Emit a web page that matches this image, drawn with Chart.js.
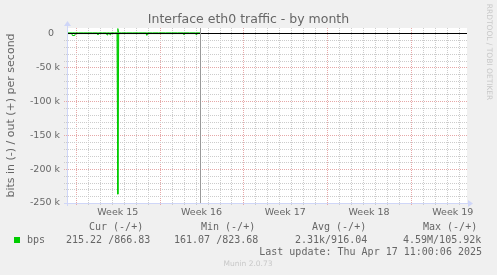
<!DOCTYPE html>
<html>
<head>
<meta charset="utf-8">
<script src="https://cdn.jsdelivr.net/npm/chart.js@4.4.1/dist/chart.umd.min.js"></script>
<style>
  html, body { margin: 0; padding: 0; background: #f0f0f0; }
  #grafico { display: block; }
</style>
</head>
<body>
<canvas id="grafico" width="497" height="275"></canvas>
<script>
// datos: tiempo en dias de abril 2025 (fraccion), bits por segundo
const tiempos = [6.25, 6.5, 6.66, 6.7, 6.9, 6.94, 7.2, 7.6, 8.0, 8.4, 8.78, 8.84, 8.9, 9.2, 9.55, 9.6, 9.66, 9.8, 9.85, 9.9, 10.2, 10.43, 10.5, 10.57, 10.8, 11.2, 11.7, 12.2, 12.6, 12.86, 12.92, 12.98, 13.4, 13.9, 14.5, 15.0, 15.5, 15.97, 16.03, 16.09, 16.5, 16.98, 17.04, 17.1, 17.37];
const bitsEntrada = [240, 260, 300, 3100, 3100, 320, 250, 230, 270, 250, 260, 1900, 280, 240, 270, 2300, 260, 280, 2100, 250, 260, 300, 237000, 300, 250, 240, 260, 250, 240, 270, 2600, 250, 240, 260, 230, 250, 240, 260, 1600, 250, 240, 250, 1900, 230, 215];
const bitsSalida = [860, 880, 870, 900, 890, 880, 860, 870, 880, 860, 870, 890, 860, 870, 880, 900, 870, 860, 880, 870, 860, 900, 7200, 880, 870, 860, 850, 870, 880, 860, 900, 870, 850, 860, 880, 870, 860, 870, 890, 860, 870, 880, 880, 860, 867];

const semanas = ["Week 15", "Week 16", "Week 17", "Week 18", "Week 19"];
const inicioSemanas = [7, 14, 21, 28, 35];
const dias = [7, 8, 9, 10, 11, 12, 13, 14, 15, 16, 17, 18, 19, 20, 21, 22, 23, 24, 25, 26, 27, 28, 29, 30, 31, 32, 33, 34, 35, 36, 37, 38, 39];
const yTicks = [0, -10000, -20000, -30000, -40000, -50000, -60000, -70000, -80000, -90000, -100000, -110000, -120000, -130000, -140000, -150000, -160000, -170000, -180000, -190000, -200000, -210000, -220000, -230000, -240000, -250000];
const ahora = 17.37;

const titulo = "Interface eth0 traffic - by month";
const cabeceras = ["Cur (-/+)", "Min (-/+)", "Avg (-/+)", "Max (-/+)"];
const valores = ["215.22 /866.83", "161.07 /823.68", "2.31k/916.04", "4.59M/105.92k"];
const ultimaActualizacion = "Last update: Thu Apr 17 11:00:06 2025";

// etiquetas de semana centradas en medio de la semana
const mitadSemanas = inicioSemanas.map((d) => d + 3.5);

const FUENTE = "'DejaVu Sans', sans-serif";
const MONO = "'DejaVu Sans Mono', monospace";
const COLOR_TEXTO = "#666666";
const COLOR_EJE = "#cfd6f8";
const GRIS_GRID = "#cccccc";
const ROJO_GRID = "#e6a8a8";

// lineas punteadas pixel a pixel
function puntosH(ctx, fila, x1, x2, color) {
  ctx.fillStyle = color;
  for (let x = x1; x <= x2; x += 2) ctx.fillRect(x, fila, 1, 1);
}
function puntosV(ctx, col, y1, y2, color) {
  ctx.fillStyle = color;
  for (let y = y1; y <= y2; y += 2) ctx.fillRect(col, y, 1, 1);
}

const fondo = {
  id: "fondo",
  beforeDraw(chart) {
    const { ctx, chartArea: a } = chart;
    ctx.save();
    ctx.fillStyle = "#f0f0f0";
    ctx.fillRect(0, 0, chart.width, chart.height);
    ctx.fillStyle = "#ffffff";
    ctx.fillRect(a.left, a.top, a.right - a.left, a.bottom - a.top);
    ctx.restore();
  },
  beforeDatasetsDraw(chart) {
    const { ctx, chartArea: a, scales } = chart;
    ctx.save();
    // rejilla menor y mayor
    dias.forEach((d) => {
      const col = Math.round(scales.x.getPixelForValue(d));
      if (col <= a.left || col >= a.right) return;
      puntosV(ctx, col, a.top, a.bottom + 2, inicioSemanas.includes(d) ? ROJO_GRID : GRIS_GRID);
    });
    yTicks.forEach((v) => {
      if (v === 0) return;
      const fila = Math.round(scales.y.getPixelForValue(v));
      puntosH(ctx, fila, a.left - 3, a.right - 1, v % 50000 === 0 ? ROJO_GRID : GRIS_GRID);
    });
    ctx.restore();
  },
};

const extras = {
  id: "extras",
  afterDatasetsDraw(chart) {
    const { ctx, chartArea: a, scales } = chart;
    ctx.save();
    // linea de cero
    const fila0 = Math.round(scales.y.getPixelForValue(0));
    ctx.fillStyle = "#000000";
    ctx.fillRect(a.left, fila0, a.right - a.left, 1);
    // linea de "ahora"
    const colAhora = Math.round(scales.x.getPixelForValue(ahora));
    ctx.fillStyle = "#999999";
    ctx.fillRect(colAhora, a.top, 1, a.bottom - a.top);
    ctx.restore();
  },
  afterDraw(chart) {
    const { ctx, chartArea: a } = chart;
    ctx.save();
    // ejes con flechas
    ctx.fillStyle = COLOR_EJE;
    ctx.fillRect(a.left, a.top - 3, 1, a.bottom - a.top + 6);
    ctx.fillRect(a.left - 3, a.bottom, a.right - a.left + 6, 1);
    const xl = a.left + 0.5;
    const yb = a.bottom + 0.5;
    ctx.beginPath();
    ctx.moveTo(xl - 3.5, a.top - 2);
    ctx.lineTo(xl + 3.5, a.top - 2);
    ctx.lineTo(xl, a.top - 7);
    ctx.closePath();
    ctx.fill();
    ctx.beginPath();
    ctx.moveTo(a.right + 1, yb - 3.5);
    ctx.lineTo(a.right + 1, yb + 3.5);
    ctx.lineTo(a.right + 6, yb);
    ctx.closePath();
    ctx.fill();

    // titulo
    ctx.textBaseline = "middle";
    ctx.textAlign = "center";
    ctx.fillStyle = COLOR_TEXTO;
    ctx.font = "12.5px " + FUENTE;
    ctx.fillText(titulo, 248.5, 19.5);

    // leyenda
    ctx.font = "10px " + MONO;
    ctx.fillStyle = "#00cc00";
    ctx.fillRect(14, 237, 6, 6);
    ctx.fillStyle = COLOR_TEXTO;
    ctx.textAlign = "left";
    ctx.fillText("bps", 27, 240);
    const xCab = [89, 201, 312, 423];
    const xVal = [66, 174, 295, 403];
    cabeceras.forEach((t, i) => ctx.fillText(t, xCab[i], 227.5));
    valores.forEach((t, i) => ctx.fillText(t, xVal[i], 240));
    ctx.textAlign = "right";
    ctx.fillText(ultimaActualizacion, 482, 252);

    // marcas de agua
    ctx.fillStyle = "#c8c8c8";
    ctx.textAlign = "center";
    ctx.font = "7.5px " + FUENTE;
    ctx.fillText("Munin 2.0.73", 248, 264);
    ctx.translate(489, 52);
    ctx.rotate(Math.PI / 2);
    ctx.fillText("RRDTOOL / TOBI OETIKER", 0, 0);
    ctx.restore();
  },
};

new Chart(document.getElementById("grafico"), {
  type: "line",
  data: {
    datasets: [
      {
        label: "in",
        data: tiempos.map((t, i) => ({ x: t, y: -bitsEntrada[i] })),
        borderColor: "#00cc00",
        borderWidth: 1,
        pointRadius: 0,
        tension: 0,
        fill: false,
      },
      {
        label: "out",
        data: tiempos.map((t, i) => ({ x: t, y: bitsSalida[i] })),
        borderColor: "#00cc00",
        borderWidth: 1,
        pointRadius: 0,
        tension: 0,
        fill: false,
      },
    ],
  },
  options: {
    responsive: false,
    animation: false,
    events: [],
    layout: { padding: { left: 0, right: 30, top: 28, bottom: 0 } },
    plugins: {
      legend: { display: false },
      tooltip: { enabled: false },
    },
    scales: {
      x: {
        type: "linear",
        min: 6.25,
        max: 39.69,
        afterBuildTicks: (scale) => {
          scale.ticks = mitadSemanas.map((v) => ({ value: v }));
        },
        afterFit: (scale) => {
          scale.height = 72;
        },
        ticks: {
          autoSkip: false,
          maxRotation: 0,
          color: COLOR_TEXTO,
          font: { family: FUENTE, size: 9.5 },
          padding: 4,
          callback: (v) => semanas[mitadSemanas.indexOf(v)],
        },
        grid: { display: false, drawTicks: false },
        border: { display: false },
      },
      y: {
        type: "linear",
        min: -250000,
        max: 8000,
        afterBuildTicks: (scale) => {
          scale.ticks = yTicks.filter((v) => v % 50000 === 0).map((v) => ({ value: v }));
        },
        afterFit: (scale) => {
          scale.width = 67;
        },
        ticks: {
          autoSkip: false,
          color: COLOR_TEXTO,
          font: { family: FUENTE, size: 9.5 },
          padding: 7,
          callback: (v) => (v === 0 ? "0  " : v / 1000 + " k"),
        },
        grid: { display: false, drawTicks: false },
        border: { display: false },
        title: {
          display: true,
          text: "bits in (-) / out (+) per second",
          color: COLOR_TEXTO,
          font: { family: FUENTE, size: 11 },
          padding: { top: 5, bottom: 0 },
        },
      },
    },
  },
  plugins: [fondo, extras],
});
</script>
</body>
</html>
